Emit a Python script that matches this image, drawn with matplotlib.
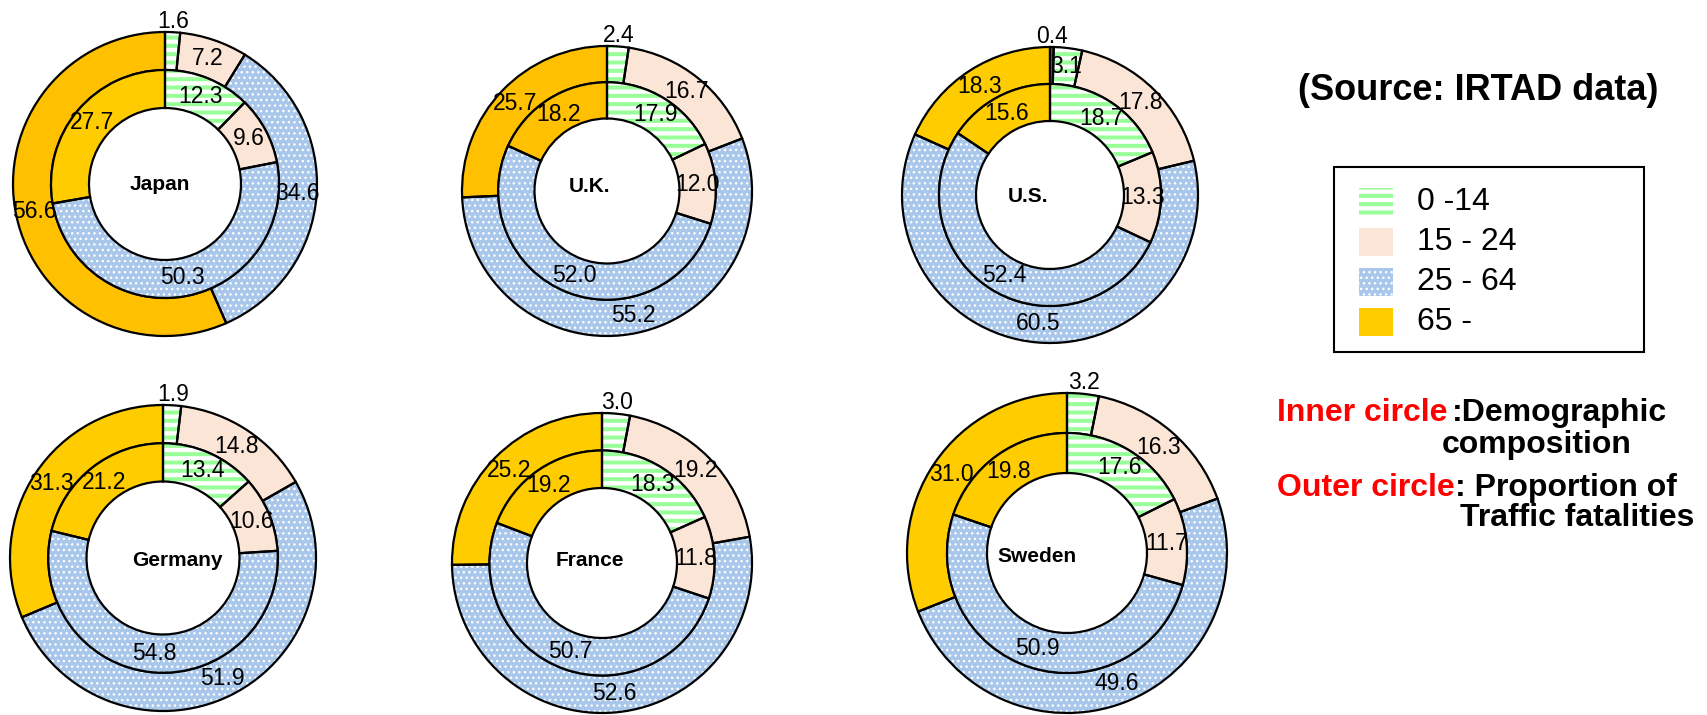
import numpy as np
import matplotlib
matplotlib.use('Agg')
import matplotlib.pyplot as plt
from matplotlib.patches import Rectangle

plt.rcParams['font.family'] = ['Liberation Sans', 'DejaVu Sans']
plt.rcParams['hatch.linewidth'] = 2.9

countries = ['Japan', 'U.K.', 'U.S.', 'Germany', 'France', 'Sweden']
age_groups = ['0 -14', '15 - 24', '25 - 64', '65 -']

# inner circle: demographic composition (%)
inner_japan = [12.3, 9.6, 50.3, 27.7]
inner_uk = [17.9, 12.0, 52.0, 18.2]
inner_us = [18.7, 13.3, 52.4, 15.6]
inner_germany = [13.4, 10.6, 54.8, 21.2]
inner_france = [18.3, 11.8, 50.7, 19.2]
inner_sweden = [17.6, 11.7, 50.9, 19.8]

# outer circle: proportion of traffic fatalities (%)
outer_japan = [1.6, 7.2, 34.6, 56.6]
outer_uk = [2.4, 16.7, 55.2, 25.7]
outer_us = [3.1, 17.8, 60.5, 18.3]
outer_germany = [1.9, 14.8, 51.9, 31.3]
outer_france = [3.0, 19.2, 52.6, 25.2]
outer_sweden = [3.2, 16.3, 49.6, 31.0]
us_unknown = 0.4  # age unknown, only for U.S.

inner_all = [inner_japan, inner_uk, inner_us, inner_germany, inner_france, inner_sweden]
outer_all = [outer_japan, outer_uk, outer_us, outer_germany, outer_france, outer_sweden]

# layout in pixels (top-left origin): centre x, centre y, outer radius
layout = [(165, 184, 152), (607, 191, 145), (1050, 195, 148),
          (163, 558, 153), (602, 563, 150), (1067, 553, 160)]
name_xy = [(160, 185), (589, 187), (1028, 197), (177, 560), (590, 560), (1037, 557)]

# styles: facecolor, hatch colour, hatch, hatch linewidth
green = ('white', '#99FF99', '--', 2.9)
peach = ('#FBE5D6', '#FBE5D6', '', 0)
blue = ('#A9C7EA', 'white', '...', 1.0)
unknown = ('#5A7A2A', '#5A7A2A', '', 0)


def yellow(c):
    return (c, c, '', 0)


def ring(ax, vals, styles, cx, cy, r, width):
    wedges, _ = ax.pie(vals, radius=r, center=(cx, cy), startangle=-90, counterclock=True,
                       wedgeprops=dict(width=width, linewidth=0), frame=True)
    for w, (fc, hc, hatch, hlw) in zip(wedges, styles):
        w.set_facecolor(fc)
        w.set_edgecolor(hc)
        w.set_linewidth(0)
        if hatch:
            w.set_hatch(hatch)
            if hasattr(w, 'set_hatch_linewidth'):
                w.set_hatch_linewidth(hlw)
    ax.pie(vals, radius=r, center=(cx, cy), startangle=-90, counterclock=True,
           wedgeprops=dict(width=width, facecolor='none', edgecolor='black', linewidth=1.6),
           frame=True)


def ring_labels(ax, vals, cx, cy, rl, first_out=None):
    fr = np.cumsum([0] + list(vals)) / np.sum(vals)
    for i, v in enumerate(vals):
        th = np.pi * (fr[i] + fr[i + 1])
        rr = rl
        if first_out is not None and i == 0 and v < 4:
            rr = first_out
        ax.text(cx + rr * np.sin(th), cy - rr * np.cos(th), f'{v:.1f}',
                ha='center', va='center', fontsize=16.5)


fig = plt.figure(figsize=(17.07, 7.15), dpi=100)
ax = fig.add_axes([0, 0, 1, 1])

for k, name in enumerate(countries):
    cx, cy, R = layout[k]
    yo = '#FFC000' if name in ('Japan', 'U.K.') else '#FFCC00'
    yi = '#FFC000' if name == 'U.K.' else '#FFCC00'
    o_vals = list(outer_all[k])
    o_styles = [green, peach, blue, yellow(yo)]
    if name == 'U.S.':
        o_vals = [us_unknown] + o_vals
        o_styles = [unknown] + o_styles
    ring(ax, o_vals, o_styles, cx, cy, R, 0.25 * R)
    ring(ax, inner_all[k], [green, peach, blue, yellow(yi)], cx, cy, 0.75 * R, 0.25 * R)
    ring_labels(ax, o_vals, cx, cy, 0.875 * R, first_out=R + 11)
    ring_labels(ax, inner_all[k], cx, cy, 0.625 * R)
    ax.text(name_xy[k][0], name_xy[k][1], name, ha='center', va='center',
            fontsize=15, fontweight='bold')

# source
ax.text(1478, 90, '(Source: IRTAD data)', ha='center', va='center',
        fontsize=26, fontweight='bold')

# legend box
ax.add_patch(Rectangle((1334, 167), 310, 185, facecolor='none', edgecolor='black', linewidth=1.5))
for i, (lab, st) in enumerate(zip(age_groups, [green, peach, blue, yellow('#FFCC00')])):
    yc = 202 + 40 * i
    h = Rectangle((1359, yc - 14), 34, 28, facecolor=st[0], edgecolor=st[1], linewidth=0)
    if st[2]:
        h.set_hatch(st[2])
        if hasattr(h, 'set_hatch_linewidth'):
            h.set_hatch_linewidth(st[3])
    ax.add_patch(h)
    ax.text(1417, yc, lab, ha='left', va='center', fontsize=23)

# explanation
ax.text(1277, 413, 'Inner circle', color='red', fontsize=23, fontweight='bold', va='center')
ax.text(1452, 413, ':Demographic', fontsize=23, fontweight='bold', va='center')
ax.text(1442, 445, 'composition', fontsize=23, fontweight='bold', va='center')
ax.text(1277, 488, 'Outer circle', color='red', fontsize=23, fontweight='bold', va='center')
ax.text(1455, 488, ': Proportion of', fontsize=23, fontweight='bold', va='center')
ax.text(1460, 518, 'Traffic fatalities', fontsize=23, fontweight='bold', va='center')

ax.set_xlim(0, 1707)
ax.set_ylim(715, 0)
ax.set_axis_off()

fig.savefig('out.png', dpi=100)
